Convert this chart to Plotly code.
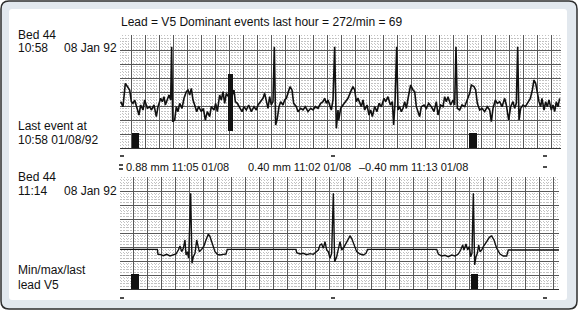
import plotly.graph_objects as go

W, H = 580, 311

# ---------------- data (samples at 210 Hz, amplitude in ADC counts, 84 counts = 1 mV) -------------
top_sample = [2, 9, 16, 22, 29, 34, 39, 44, 52, 57, 62, 69, 74, 82, 89, 94, 102, 109, 114, 122, 127, 132,
              136, 142, 147, 152, 155, 158, 164, 169, 174, 179, 186, 192, 199, 204, 209, 214, 219, 224, 230,
              236, 244, 250, 256, 262, 269, 274, 282, 287, 292, 299, 304, 309, 314, 319, 332, 342, 346, 352,
              359, 366, 372, 379, 386, 394, 402, 409, 414, 422, 429, 434, 439, 444, 449, 454, 459, 463, 467,
              472, 477, 482, 489, 494, 499, 504, 510, 516, 521, 529, 534, 542, 549, 556, 564, 572, 579, 586,
              594, 602, 609, 614, 619, 624, 629, 634, 639, 644, 649, 654, 656, 662, 669, 676, 684, 692, 699,
              704, 709, 714, 719, 724, 729, 734, 741, 747, 752, 757, 764, 771, 777, 784, 792, 797, 804, 811,
              817, 821, 825, 830, 834, 839, 844, 849, 854, 859, 866, 872, 879, 884, 889, 894, 899, 904, 912,
              919, 926, 934, 942, 949, 954, 962, 969, 974, 979, 984, 992, 999, 1004, 1008, 1012, 1019, 1026,
              1034, 1042, 1049, 1054, 1062, 1067, 1072, 1079, 1086, 1094, 1102, 1109, 1114, 1119, 1126, 1132,
              1139, 1146, 1154, 1159, 1166, 1172, 1179, 1184, 1189, 1193, 1197, 1202, 1209, 1216, 1224, 1231,
              1237, 1242, 1247, 1252, 1257, 1262, 1266, 1272, 1277, 1282, 1287, 1294, 1299, 1304, 1309, 1314,
              1319]
top_counts = [13, -2, 68, 58, 48, 13, 8, 18, -12, -27, 3, -12, 18, -7, -2, -12, 3, -32, -2, 23, 13, 28,
              3, 23, 33, 18, 178, -47, -42, -2, -17, 8, -7, 23, 43, 48, 33, 53, 18, 3, -17,
              -2, -17, -7, -42, -17, -32, -2, -12, 8, -17, 33, 18, 43, 8, 38, 18, 48, 13, 8,
              -7, -17, -2, -12, 3, -17, -2, -12, 3, 13, 23, 38, 18, -7, 28, 3, 13, 178, -57,
              -37, -2, 13, 3, 18, 23, 38, 58, 48, 8, -2, -17, -7, -12, -2, -17, -7, -12, -2,
              -7, 8, 13, 23, 8, 18, 3, -12, 18, 178, -67, -12, -42, -7, 3, 13, 23, 43, 58,
              48, 13, 23, 8, -2, 18, -12, 3, -27, -12, -32, -2, -17, 8, -2, 23, 13, 28, 3,
              13, -57, 8, 178, -12, -2, -17, -7, 13, -7, 33, 63, 48, 43, -2, -17, -32, -2, 3,
              -7, 8, -2, -17, 13, -27, 3, -2, 28, 13, 28, 3, 18, 3, 178, -7, -12, 3,
              -2, 23, 38, 63, 58, 48, 8, -12, -7, -17, -2, -12, -47, -7, 18, 8,
              13, -2, 23, 3, -42, -2, 13, -7, 8, 178, -42, -7, 3, -2, 13, 23,
              48, 78, 68, 33, 13, -2, 23, -12, 13, -2, 18, -12, 3, -17, 13, -2,
              23]

bottom_sample = [0, 112, 114, 120, 130, 140, 150, 160, 168, 175, 180, 185, 190, 195, 198, 202, 206, 212,
                 216, 220, 225, 230, 238, 245, 252, 258, 265, 270, 278, 285, 292, 300, 310, 318, 322,
                 528, 530, 540, 550, 560, 570, 580, 588, 595, 600, 605, 610, 615, 620, 625, 630, 635,
                 640, 644, 650, 655, 660, 665, 670, 678, 685, 690, 695, 702, 710, 720, 730, 738, 743,
                 950, 955, 965, 975, 985, 995, 1005, 1015, 1022, 1028, 1032, 1038, 1043, 1048, 1052,
                 1056, 1060, 1064, 1068, 1072, 1076, 1080, 1085, 1090, 1100, 1108, 1115, 1122, 1130,
                 1140, 1150, 1160, 1165, 1317]
bottom_counts = [-7, -7, -22, -22, -26, -22, -27, -23, -21, -9, 3, -14, -4, 21, -24, -14, -34, 161,
                 -49, -29, -19, 21, -14, -7, 3, 21, 39, 31, 6, -14, -22, -24, -22, -21, -7,
                 -7, -17, -21, -19, -23, -20, -22, -15, -9, 6, 9, -4, 16, -9, -14, -34, -19,
                 161, -44, -29, -9, 16, -9, -4, 11, 26, 33, 26, 6, -14, -21, -24, -19, -7,
                 -7, -21, -27, -25, -29, -24, -27, -21, -9, 6, -9, 9, -9, 1, -29,
                 -19, 161, -54, -29, -19, 6, -14, -9, 1, 16, 29, 33, 21, -4,
                 -21, -27, -27, -9, -9]

top_event_start = [36, 1047]
top_event_end = [57, 1071]
bottom_event_start = [33, 1053]
bottom_event_end = [57, 1074]
artifact_start = [324]
artifact_end = [339]
artifact_low = [-75]
artifact_high = [96]

title_text = "Lead = V5 Dominant events last hour = 272/min = 69"
minmax_labels = ["0.88 mm 11:05 01/08", "0.40 mm 11:02 01/08", "\u20130.40 mm 11:13 01/08"]

# ---------------- styling ----------------
FONT = "Liberation Sans, Arial, Helvetica, sans-serif"
INK = "#111111"
MAJOR = "#585858"
MINOR = "#c2c2c2"
LANE_LO, LANE_HI_TOP, LANE_HI_BOT = -126, -81, -81


def px(x):
    return x / W


def py(y):
    return 1 - y / H


fig = go.Figure()

# traces
fig.add_trace(go.Scatter(x=top_sample, y=top_counts, mode="lines",
                         line=dict(color=INK, width=1.6), xaxis="x", yaxis="y", hoverinfo="skip"))
fig.add_trace(go.Scatter(x=bottom_sample, y=bottom_counts, mode="lines",
                         line=dict(color=INK, width=1.4), xaxis="x2", yaxis="y2", hoverinfo="skip"))

# artifact block
fig.add_trace(go.Bar(x=[(s + e) / 2 for s, e in zip(artifact_start, artifact_end)],
                     width=[e - s for s, e in zip(artifact_start, artifact_end)],
                     base=artifact_low,
                     y=[h - l for h, l in zip(artifact_high, artifact_low)],
                     marker=dict(color=INK, line=dict(width=0)), xaxis="x", yaxis="y", hoverinfo="skip"))
# event markers
fig.add_trace(go.Bar(x=[(s + e) / 2 for s, e in zip(top_event_start, top_event_end)],
                     width=[e - s for s, e in zip(top_event_start, top_event_end)],
                     base=[LANE_LO] * len(top_event_start),
                     y=[LANE_HI_TOP - LANE_LO] * len(top_event_start),
                     marker=dict(color=INK, line=dict(width=0)), xaxis="x", yaxis="y", hoverinfo="skip"))
fig.add_trace(go.Bar(x=[(s + e) / 2 for s, e in zip(bottom_event_start, bottom_event_end)],
                     width=[e - s for s, e in zip(bottom_event_start, bottom_event_end)],
                     base=[LANE_LO] * len(bottom_event_start),
                     y=[LANE_HI_BOT - LANE_LO] * len(bottom_event_start),
                     marker=dict(color=INK, line=dict(width=0)), xaxis="x2", yaxis="y2", hoverinfo="skip"))


def grid_axis(domain, rng, tick0, **kw):
    d = dict(domain=domain, range=rng, showticklabels=False, ticks="", zeroline=False,
             showgrid=True, gridcolor=MAJOR, gridwidth=1, tickmode="linear", dtick=42, tick0=tick0,
             minor=dict(dtick=8.4, tick0=tick0, showgrid=True, gridcolor=MINOR, gridwidth=1,
                        griddash="1px,1.8px", ticks=""),
             fixedrange=True)
    d.update(kw)
    return d


fig.update_layout(
    width=W, height=H, margin=dict(l=0, r=0, t=0, b=0),
    paper_bgcolor="white", plot_bgcolor="rgba(0,0,0,0)",
    showlegend=False, barmode="overlay",
    xaxis=grid_axis([px(120), px(561)], [0, 1323], 33, anchor="y",
                    showline=True, linecolor="#333", linewidth=1),
    yaxis=grid_axis([py(148), py(35)], [-126, 213], 0, anchor="x"),
    xaxis2=grid_axis([px(120), px(559)], [0, 1317], 39, anchor="y2",
                     showline=True, linecolor="#333", linewidth=1),
    yaxis2=grid_axis([py(289), py(177)], [-126, 210], 0, anchor="x2"),
)

# frame
def rrect(x0, y0, x1, y1, r):
    X0, X1 = px(x0), px(x1)
    Y0, Y1 = py(y0), py(y1)
    rx, ry = r / W, r / H
    return (f"M {X0+rx},{Y0} L {X1-rx},{Y0} Q {X1},{Y0} {X1},{Y0-ry} "
            f"L {X1},{Y1+ry} Q {X1},{Y1} {X1-rx},{Y1} L {X0+rx},{Y1} Q {X0},{Y1} {X0},{Y1+ry} "
            f"L {X0},{Y0-ry} Q {X0},{Y0} {X0+rx},{Y0} Z")


shapes = [
    dict(type="path", path=rrect(1, 1, 577, 309, 8), xref="paper", yref="paper",
         fillcolor="#e2e8ee", line=dict(color="#2e2e2e", width=1.5), layer="below"),
    dict(type="path", path=rrect(9, 9, 567, 300, 3), xref="paper", yref="paper",
         fillcolor="white", line=dict(width=0), layer="below"),
]
# little dash marks
for (x, y) in [(120, 156), (331, 156), (543, 156), (543, 167), (120, 298), (331, 298), (543, 298),
               (119, 165), (119, 169)]:
    shapes.append(dict(type="line", xref="paper", yref="paper", x0=px(x), x1=px(x + 4), y0=py(y), y1=py(y),
                       line=dict(color=INK, width=1.5)))
fig.update_layout(shapes=shapes)

ann = []


def label(text, x, y, size=12):
    ann.append(dict(text=text, x=px(x), y=py(y), xref="paper", yref="paper", xanchor="left",
                    yanchor="middle", showarrow=False, font=dict(family=FONT, size=size, color=INK)))


label(title_text, 119, 22)
label("Bed 44", 16, 35)
label("10:58", 16, 48)
label("08 Jan 92", 62, 48)
label("Last event at", 16, 126)
label("10:58 01/08/92", 16, 140)
label("Bed 44", 16, 177)
label("11:14", 16, 191)
label("08 Jan 92", 62, 191)
label("Min/max/last", 16, 270)
label("lead V5", 16, 285)
for t, x in zip(minmax_labels, [124, 246, 357]):
    label(t, x, 167, size=11)
fig.update_layout(annotations=ann)

fig.write_html("out.html")
